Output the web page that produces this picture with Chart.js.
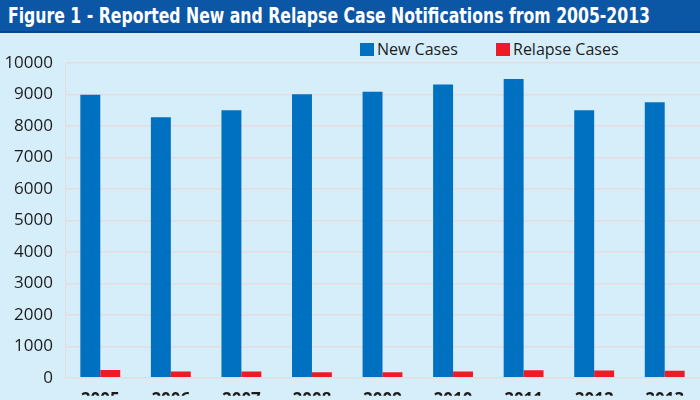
<!DOCTYPE html>
<html>
<head>
<meta charset="utf-8">
<script src="https://cdn.jsdelivr.net/npm/chart.js@4"></script>
<style>
  html,body{margin:0;padding:0}
  body{width:700px;height:400px;overflow:hidden;background:#d6edfa;position:relative;font-family:"Open Sans",sans-serif}
  #ttl{position:absolute;left:0;top:0;width:700px;height:31px;background:#0c56a6;border-bottom:2px solid #0a468c}
  #ttlTxt{position:absolute;left:8px;top:3px;color:#fff;font-family:"Liberation Sans Narrow","DejaVu Sans Condensed",sans-serif;font-weight:bold;font-size:22px;white-space:nowrap;transform-origin:0 0}
  .lg{position:absolute;top:38px;font-size:16px;color:#1d1d1d;white-space:nowrap}
  .lg i{display:inline-block;width:14px;height:13px;margin-right:3px;vertical-align:-1px}
  #cw{position:absolute;left:0;top:33px;width:700px;height:367px}
</style>
</head>
<body>
<div id="ttl"><span id="ttlTxt">Figure 1 - Reported New and Relapse Case Notifications from 2005-2013</span></div>
<div class="lg" style="left:360px"><i style="background:#0070c0"></i>New Cases</div>
<div class="lg" style="left:496px"><i style="background:#ed1c24"></i>Relapse Cases</div>
<div id="cw"><canvas id="c"></canvas></div>
<script>
/* ═══ DATA ═══ */
const years=['2005','2006','2007','2008','2009','2010','2011','2012','2013'];
const newCases=[8990,8280,8500,9010,9090,9320,9490,8500,8750];
const relapseCases=[250,200,200,180,180,200,240,230,220];
const yTicks=[0,1000,2000,3000,4000,5000,6000,7000,8000,9000,10000];

// squeeze title to reference width
const tt=document.getElementById('ttlTxt');
const tw=tt.getBoundingClientRect().width;
if(tw>0) tt.style.transform='scaleX('+(642/tw)+')';

const ctx=document.getElementById('c');
ctx.width=700; ctx.height=367;
new Chart(ctx,{
  type:'bar',
  data:{
    labels:years,
    datasets:[
      {label:'New Cases',data:newCases,backgroundColor:'#0070c0',borderWidth:0},
      {label:'Relapse Cases',data:relapseCases,backgroundColor:'#ed1c24',borderWidth:0}
    ]
  },
  options:{
    responsive:false,animation:false,
    layout:{padding:{top:30,right:-3,left:0,bottom:0}},
    datasets:{bar:{categoryPercentage:0.565,barPercentage:1.0}},
    plugins:{legend:{display:false},tooltip:{enabled:false}},
    scales:{
      x:{
        grid:{display:false,drawTicks:false},
        border:{display:false},
        ticks:{font:{family:'Open Sans',size:17,weight:'bold'},color:'#1a1a1a',padding:12,maxRotation:0},
        afterFit(s){s.height=18}
      },
      y:{
        min:0,max:10000,
        afterBuildTicks(s){s.ticks=yTicks.map(v=>({value:v}))},
        grid:{color:'#e4dcdf',lineWidth:1.5,drawTicks:false},
        border:{display:true,color:'#e4dcdf'},
        ticks:{font:{family:'Open Sans',size:17},color:'#1d1d1d',padding:12,callback:v=>String(v)},
        afterFit(s){s.width=65}
      }
    }
  }
});
</script>
</body>
</html>
